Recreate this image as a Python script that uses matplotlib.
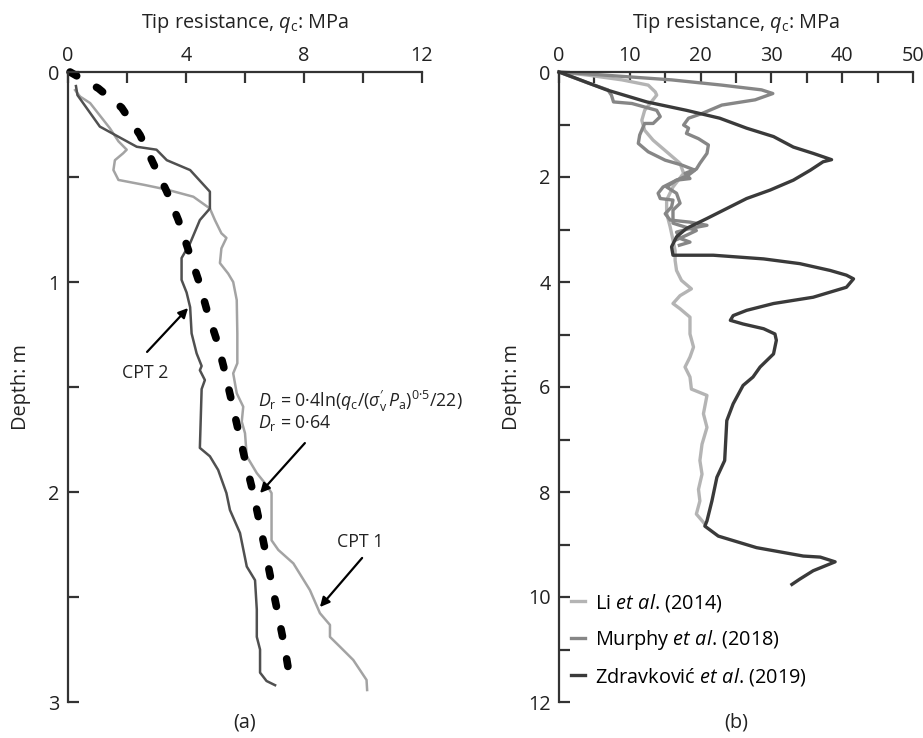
import matplotlib
matplotlib.use('Agg')
import matplotlib.pyplot as plt

plt.rcParams['font.family'] = ['Open Sans', 'DejaVu Sans']
plt.rcParams['mathtext.fontset'] = 'custom'
plt.rcParams['mathtext.rm'] = 'Open Sans'
plt.rcParams['mathtext.it'] = 'Open Sans:italic'
plt.rcParams['mathtext.bf'] = 'Open Sans:bold'

# ---- panel (a): CPT profiles, depth in m, qc in MPa
cpt1_depth = [0.086, 0.117, 0.148, 0.268, 0.33, 0.37, 0.387, 0.42, 0.467, 0.514, 0.538, 0.56, 0.594, 0.65,
              0.705, 0.768, 0.79, 0.84, 0.91, 0.96, 1.0, 1.086, 1.245, 1.387, 1.435, 1.53, 1.594, 1.665, 1.72,
              1.83, 1.91, 1.967, 2.005, 2.23, 2.276, 2.34, 2.467, 2.577, 2.633, 2.69, 2.737, 2.8, 2.895, 2.943]
cpt1_qc = [0.24, 0.41, 0.75, 1.42, 1.71, 1.99, 1.87, 1.59, 1.54, 1.71, 2.6, 3.35, 4.25, 4.81,
           4.98, 5.2, 5.37, 5.2, 5.15, 5.43, 5.6, 5.72, 5.74, 5.74, 5.6, 5.72, 5.94, 5.89, 6.0,
           6.06, 6.40, 6.73, 6.9, 6.9, 7.13, 7.64, 8.2, 8.54, 8.88, 8.88, 9.22, 9.67, 10.12, 10.14]
cpt2_depth = [0.067, 0.11, 0.26, 0.356, 0.37, 0.42, 0.467, 0.57, 0.65, 0.705, 0.815, 0.886, 0.99, 1.05, 1.12,
              1.245, 1.34, 1.40, 1.42, 1.467, 1.51, 1.79, 1.83, 1.895, 2.005, 2.086, 2.195, 2.355, 2.42, 2.56,
              2.69, 2.75, 2.86, 2.90, 2.92]
cpt2_qc = [0.27, 0.32, 1.08, 2.33, 3.0, 3.35, 4.14, 4.81, 4.81, 4.47, 4.14, 3.85, 3.85, 4.02, 4.14,
           4.19, 4.36, 4.53, 4.47, 4.64, 4.53, 4.47, 4.81, 5.09, 5.37, 5.49, 5.83, 6.06, 6.34, 6.40,
           6.40, 6.51, 6.51, 6.73, 7.02]
fit_depth = [0, 0.078, 0.17, 0.3, 0.435, 0.57, 0.705, 0.848, 0.99, 1.14, 1.276, 1.40, 1.57, 1.73, 1.864,
             2.005, 2.157, 2.31, 2.46, 2.61, 2.75, 2.895]
fit_qc = [0.07, 1.03, 1.82, 2.44, 2.89, 3.35, 3.74, 4.08, 4.42, 4.72, 5.04, 5.27, 5.55, 5.81, 6.03,
          6.28, 6.51, 6.73, 6.94, 7.16, 7.36, 7.53]

# ---- panel (b): published profiles
li_depth = [0, 0.06, 0.15, 0.25, 0.38, 0.44, 0.73, 0.92, 1.11, 1.30, 1.52, 1.74, 1.93, 2.19, 2.44, 2.69, 2.95,
            3.2, 3.40, 3.59, 3.78, 3.97, 4.13, 4.26, 4.41, 4.51, 4.67, 4.99, 5.24, 5.43, 5.62, 5.81, 6.04,
            6.16, 6.51, 6.77, 7.09, 7.40, 7.66, 7.95, 8.17, 8.42, 8.61]
li_qc = [0, 4.1, 8.9, 12.6, 13.6, 13.8, 12.1, 11.7, 12.1, 13.3, 15.2, 17.1, 17.6, 16.1, 15.2, 15.2, 15.7,
         16.1, 16.4, 16.4, 16.6, 17.3, 18.7, 17.1, 16.1, 17.1, 18.5, 18.5, 19, 18.5, 17.8, 18.5, 18.7,
         20.9, 20.4, 20.9, 20.2, 19.9, 20.2, 19.7, 19.9, 19.4, 20.6]
murphy1_depth = [0, 0.06, 0.15, 0.25, 0.34, 0.41, 0.53, 0.63, 0.79, 0.88, 1.01, 1.07, 1.17, 1.27, 1.39, 1.55,
                 1.74, 1.85, 1.93, 2.03, 2.06, 2.19, 2.31, 2.41, 2.44, 2.57, 2.70, 2.82, 2.86, 2.92, 2.98,
                 3.05, 3.17, 3.24, 3.30]
murphy1_qc = [0, 6.5, 15.9, 23, 28.6, 30.2, 27.7, 23, 20.2, 18.3, 17.6, 18.3, 18.0, 19.7, 21.1, 20.9,
              19.9, 19.4, 17.8, 18.5, 16.6, 14.7, 14.0, 14.3, 16.1, 15.9, 15.0, 15.7, 18.5, 20.9, 18.5,
              16.6, 17.1, 18.5, 17.0]
murphy2_depth = [0, 0.21, 0.34, 0.44, 0.57, 0.60, 0.73, 0.85, 0.98, 0.98, 1.2, 1.36, 1.52, 1.68, 1.77, 1.87,
                 1.97, 2.06, 2.19, 2.31, 2.5, 2.63, 2.88, 3.02, 3.11, 3.2]
murphy2_qc = [0, 4.1, 6.9, 7.4, 7.7, 10.3, 13.8, 14.3, 13.3, 12.1, 11.4, 11.2, 12.6, 15, 17.3, 19.2,
              18.2, 16.6, 15.2, 16.6, 17.1, 16.1, 16.1, 19.4, 18.0, 16.5]
zdr_depth = [0, 0.15, 0.34, 0.57, 0.73, 0.88, 1.07, 1.23, 1.43, 1.55, 1.67, 1.71, 1.87, 2.06, 2.25, 2.41, 2.6,
             2.79, 2.98, 3.14, 3.33, 3.49, 3.49, 3.56, 3.65, 3.78, 3.87, 3.94, 4.1, 4.29, 4.41, 4.54, 4.64,
             4.73, 4.80, 4.89, 4.99, 5.11, 5.37, 5.62, 5.81, 5.97, 6.32, 6.64, 7.40, 7.72, 8.17, 8.55, 8.65,
             8.84, 9.06, 9.22, 9.24, 9.33, 9.50, 9.66, 9.76]
zdr_qc = [0, 3.0, 6.7, 12.4, 18.0, 22.7, 26.5, 30.3, 33.1, 35.9, 38.5, 37.3, 35.5, 33.1, 29.8, 26.5, 23.7,
          20.9, 18.0, 16.6, 15.9, 16.1, 21.8, 28.9, 34.0, 38.3, 40.6, 41.6, 40.6, 35.9, 30.3, 26.5, 24.6,
          24.2, 26.0, 28.9, 30.5, 30.7, 30.3, 28.4, 27.4, 26.0, 24.6, 23.7, 23.4, 22.3, 21.6, 20.9, 20.6,
          22.5, 27.9, 34.5, 36.9, 39.0, 35.9, 34.0, 32.9]

a_xticks = [0, 2, 4, 6, 8, 10, 12]
a_xticklabels = ['0', '', '4', '', '8', '', '12']
a_yticks = [0, 0.5, 1, 1.5, 2, 2.5, 3]
a_yticklabels = ['0', '', '1', '', '2', '', '3']
b_xticks = [0, 5, 10, 15, 20, 25, 30, 35, 40, 45, 50]
b_xticklabels = ['0', '', '10', '', '20', '', '30', '', '40', '', '50']
b_yticks = list(range(0, 13))
b_yticklabels = [str(v) if v % 2 == 0 else '' for v in b_yticks]

xlab = 'Tip resistance, $q_\\mathrm{c}$: MPa'
AX = '#333333'
TXT = '#222222'
FS = 14.3
AFS = 12.8

fig = plt.figure(figsize=(9.23, 7.38), dpi=100)
axa = fig.add_axes([68/923, 36/738, 354/923, 630/738])
axb = fig.add_axes([559/923, 36/738, 354/923, 630/738])


def style(ax, xt, xtl, yt, ytl, xmax, ymax):
    ax.set_xlim(0, xmax)
    ax.set_ylim(ymax, 0)
    for s in ['right', 'bottom']:
        ax.spines[s].set_visible(False)
    for s in ['left', 'top']:
        ax.spines[s].set_color(AX)
        ax.spines[s].set_linewidth(1.6)
    ax.xaxis.tick_top()
    ax.set_xticks(xt, xtl)
    ax.set_yticks(yt, ytl)
    ax.tick_params(direction='in', length=8, width=1.6, color=AX, labelsize=FS, labelcolor=TXT)
    ax.tick_params(axis='x', pad=4)
    ax.tick_params(axis='y', pad=6)
    ax.text(0.5, 1.07, xlab, transform=ax.transAxes, ha='center', va='baseline', fontsize=FS, color=TXT)
    ax.set_ylabel('Depth: m', fontsize=FS, color=TXT)
    ax.yaxis.set_label_coords(-0.105, 0.5)


style(axa, a_xticks, a_xticklabels, a_yticks, a_yticklabels, 12, 3)
style(axb, b_xticks, b_xticklabels, b_yticks, b_yticklabels, 50, 12)

axa.plot(cpt1_qc, cpt1_depth, color='#a3a3a3', lw=1.8)
axa.plot(cpt2_qc, cpt2_depth, color='#505050', lw=1.8)
axa.plot(fit_qc, fit_depth, color='black', lw=5.5, dashes=(1.0, 3.0), dash_capstyle='round', clip_on=False)

arrow = dict(arrowstyle='-|>', color='black', lw=1.6, mutation_scale=14, shrinkA=0, shrinkB=0)
axa.annotate('', xy=(4.07, 1.124), xytext=(2.68, 1.333), arrowprops=arrow)
axa.text(2.61, 1.433, 'CPT 2', ha='center', va='center', fontsize=AFS, color=TXT)
axa.text(6.44, 1.571, "$D_\\mathrm{r}$ = 0·4ln($q_\\mathrm{c}$/($\\sigma_\\mathrm{v}^{\\prime}\\,P_\\mathrm{a}$)$^\\mathrm{0·5}$/22)",
         ha='left', va='center', fontsize=AFS, color=TXT)
axa.text(6.44, 1.671, '$D_\\mathrm{r}$ = 0·64', ha='left', va='center', fontsize=AFS, color=TXT)
axa.annotate('', xy=(6.51, 2.005), xytext=(8.03, 1.767), arrowprops=arrow)
axa.text(9.9, 2.238, 'CPT 1', ha='center', va='center', fontsize=AFS, color=TXT)
axa.annotate('', xy=(8.54, 2.548), xytext=(9.97, 2.314), arrowprops=arrow)
axa.text(0.5, -0.033, '(a)', transform=axa.transAxes, ha='center', va='center', fontsize=FS, color=TXT)

axb.plot(li_qc, li_depth, color='#b4b4b4', lw=2.4, label='Li $\\mathit{et\\ al}$. (2014)', clip_on=False)
axb.plot(murphy1_qc, murphy1_depth, color='#868686', lw=2.4, label='Murphy $\\mathit{et\\ al}$. (2018)', clip_on=False)
axb.plot(murphy2_qc, murphy2_depth, color='#868686', lw=2.4, clip_on=False)
axb.plot(zdr_qc, zdr_depth, color='#3a3a3a', lw=2.4, label='Zdravković $\\mathit{et\\ al}$. (2019)', clip_on=False)
axb.legend(loc='upper left', bbox_to_anchor=(0.035, 0.175), frameon=False, fontsize=FS,
           handlelength=0.7, handletextpad=0.5, labelspacing=0.7, borderpad=0, borderaxespad=0)
axb.text(0.5, -0.033, '(b)', transform=axb.transAxes, ha='center', va='center', fontsize=FS, color=TXT)

fig.savefig('out.png', dpi=100)
